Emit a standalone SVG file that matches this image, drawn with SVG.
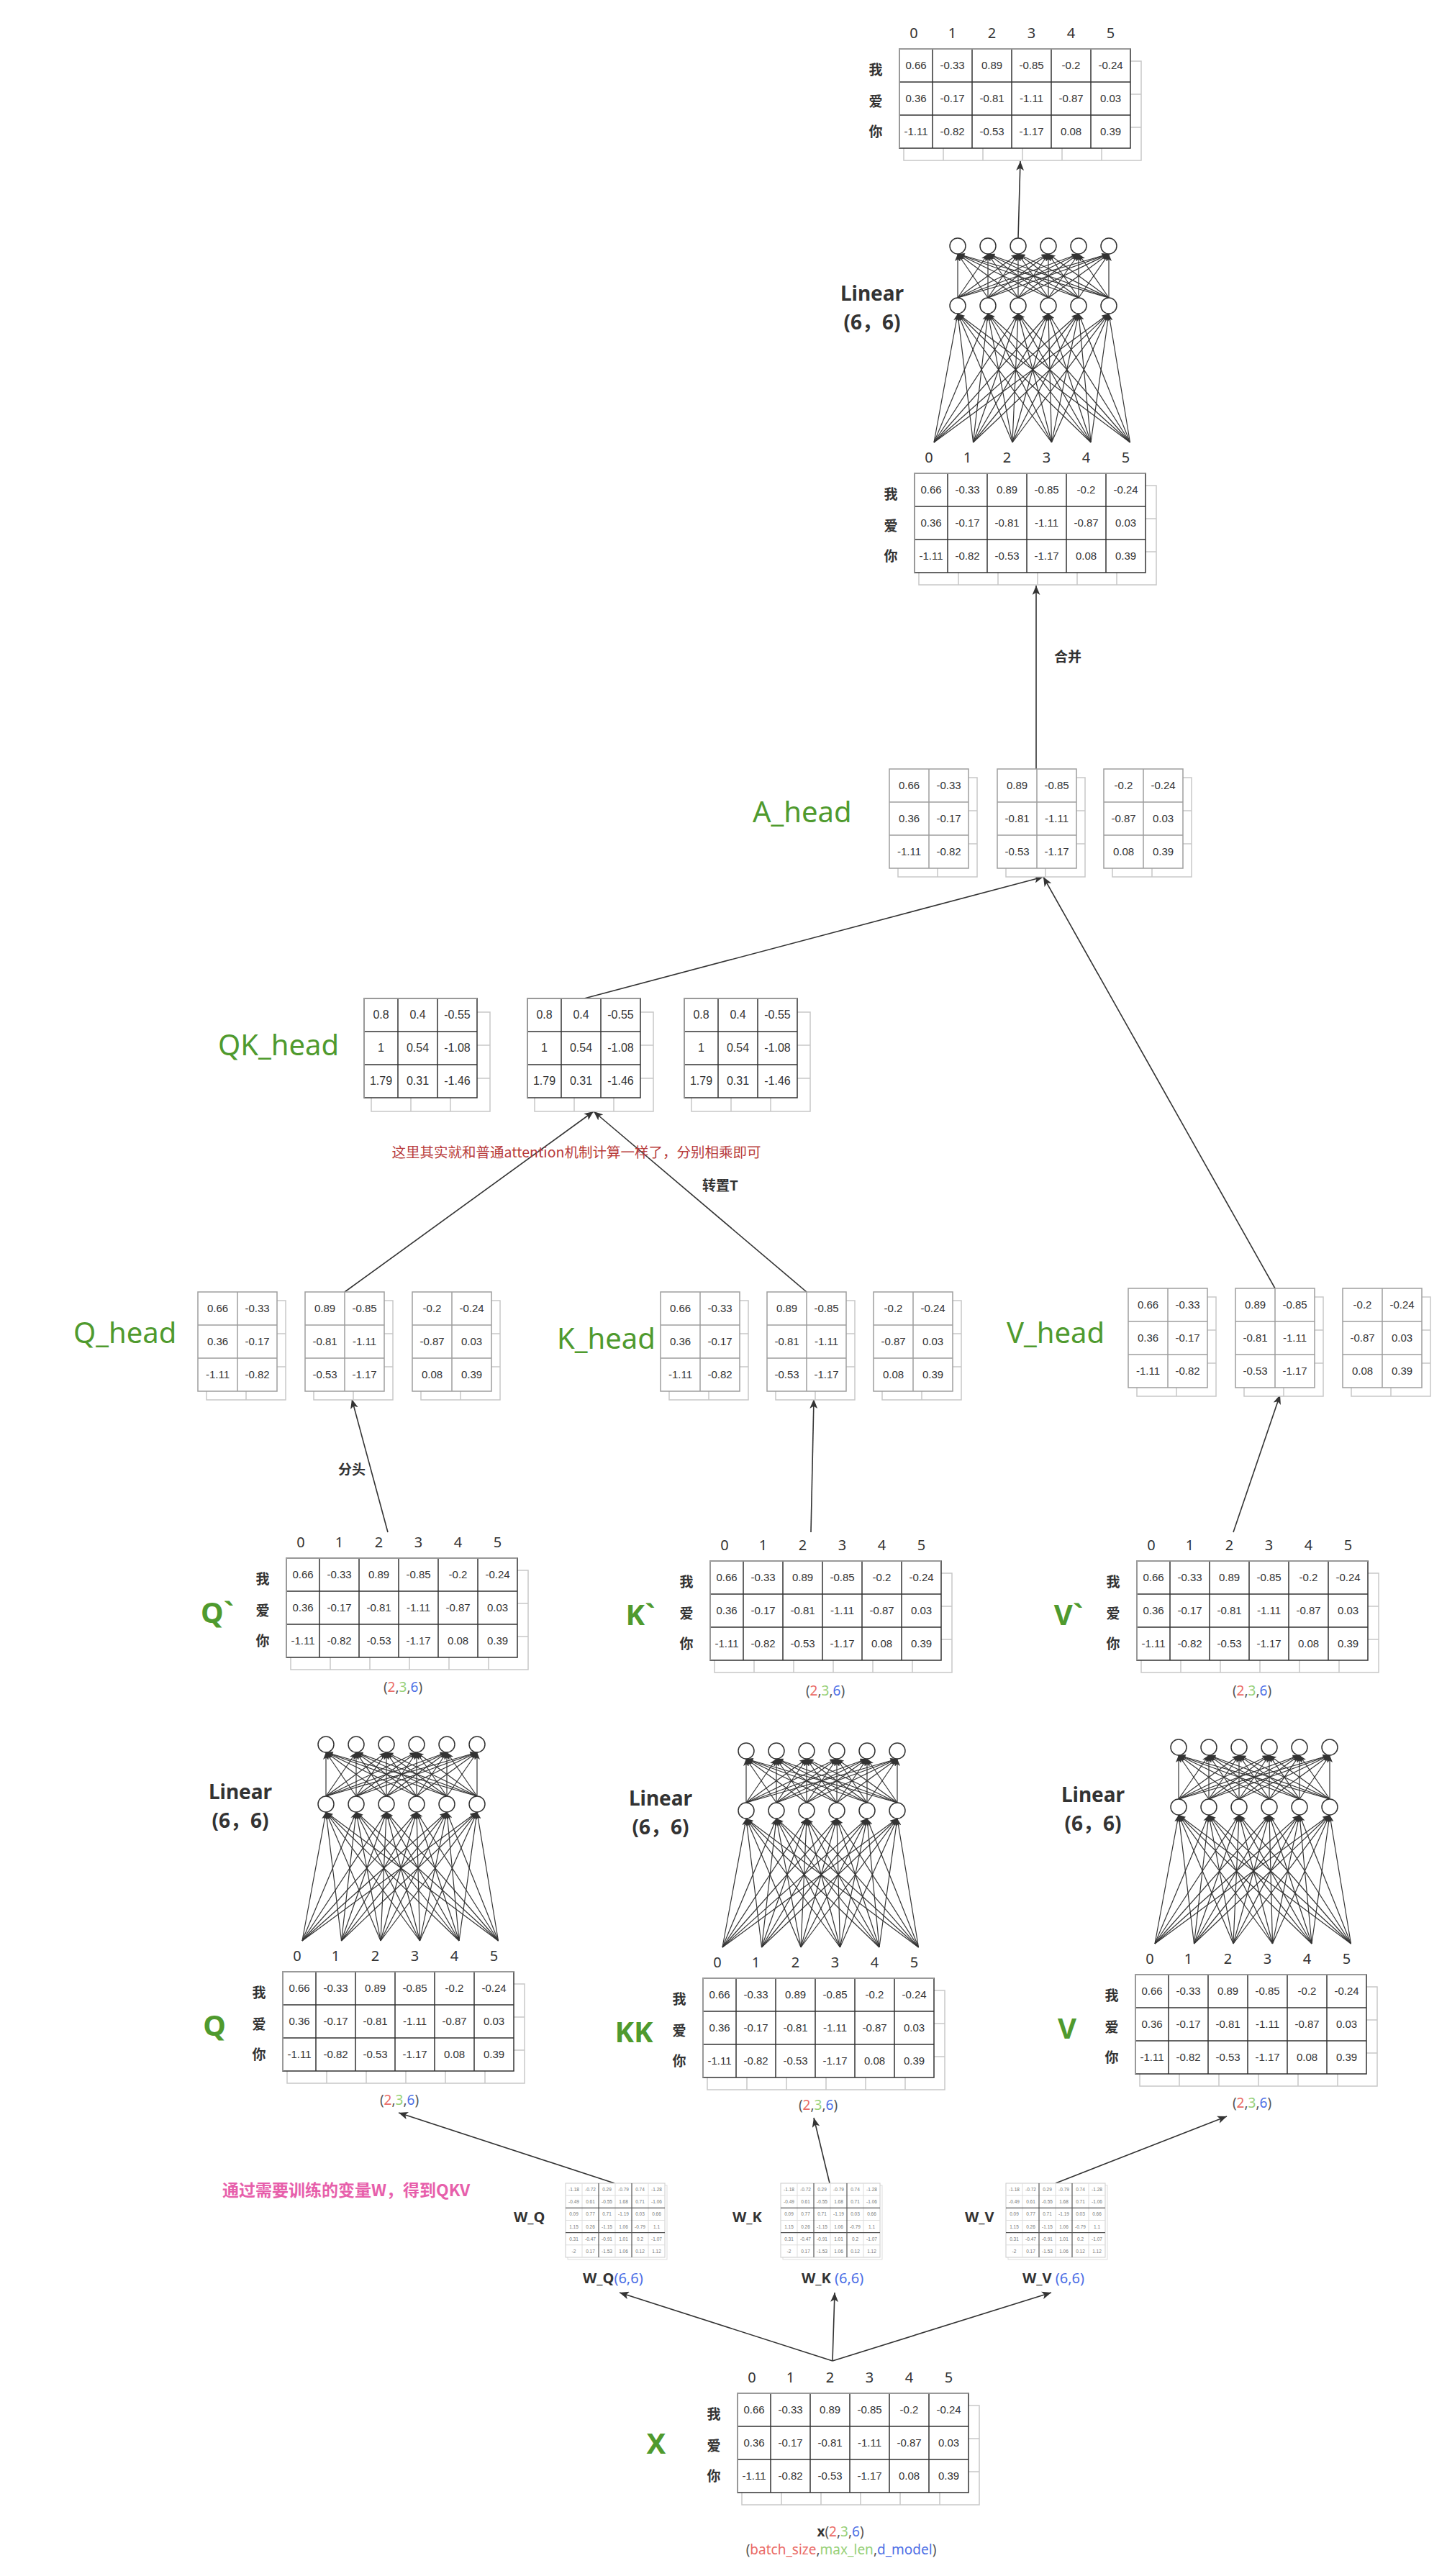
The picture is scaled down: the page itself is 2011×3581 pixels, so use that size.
<svg xmlns="http://www.w3.org/2000/svg" width="2011" height="3581" viewBox="0 0 2011 3581">
<style>
.num{font-family:"Liberation Sans",Arial,sans-serif;font-size:15px;fill:#333;text-anchor:middle}
.numq{font-family:"Liberation Sans",Arial,sans-serif;font-size:16px;fill:#333;text-anchor:middle}
.col{font-family:"Noto Sans","Liberation Sans",sans-serif;font-size:20px;fill:#333;text-anchor:middle}
.row{font-family:"Noto Sans CJK SC",sans-serif;font-size:19px;font-weight:bold;fill:#333;text-anchor:middle}
.lin{font-family:"Noto Sans","Noto Sans CJK SC",sans-serif;font-size:28px;font-weight:bold;fill:#333;text-anchor:middle}
.gt{font-family:"Noto Sans",sans-serif;font-size:40px;fill:#4f9a2e}
.gb{font-family:"Noto Sans",sans-serif;font-size:40px;font-weight:bold;fill:#4f9a2e;text-anchor:middle}
.lab{font-family:"Noto Sans CJK SC",sans-serif;font-size:19px;font-weight:bold;fill:#333;text-anchor:middle}
.dim{font-family:"Noto Sans",sans-serif;font-size:19px;fill:#555;text-anchor:middle}
.wl{font-family:"Noto Sans",sans-serif;font-size:20px;font-weight:bold;fill:#333}
.tiny{font-family:"Liberation Sans",sans-serif;font-size:6.5px;fill:#777;text-anchor:middle}
.sh rect{fill:#fff;stroke:#c8c8c8;stroke-width:1.5}
.sh path{fill:none;stroke:#c8c8c8;stroke-width:1.5}
.grid rect{fill:#fff;stroke:#333;stroke-width:1.5}
.grid path{fill:none;stroke:#333;stroke-width:1.5}
.ggrid rect{fill:#fff;stroke:#9e9e9e;stroke-width:1.5}
.ggrid path{fill:none;stroke:#9e9e9e;stroke-width:1.5}
.edge line{stroke:#333;stroke-width:1.6;marker-end:url(#ahL)}
.nn line{stroke:#333;stroke-width:1.2;marker-end:url(#ah)}
.nn circle{fill:#fff;stroke:#333;stroke-width:1.5}
.r{fill:#ea6b66}.g{fill:#97d077}.b{fill:#4d6fe6}
</style>
<defs>
<marker id="ah" viewBox="0 0 10 8" refX="10" refY="4" markerWidth="10" markerHeight="8" markerUnits="userSpaceOnUse" orient="auto"><path d="M0,0 L10,4 L0,8 L2.5,4 z" fill="#333"/></marker>
<marker id="ahL" viewBox="0 0 12 10" refX="12" refY="5" markerWidth="13" markerHeight="11" markerUnits="userSpaceOnUse" orient="auto"><path d="M0,0 L12,5 L0,10 L3,5 z" fill="#333"/></marker>

<g id="m6">
<g class="sh"><rect x="6" y="17" width="330" height="138"/><path d="M61 17V155M116 17V155M171 17V155M226 17V155M281 17V155M6 63H336M6 109H336"/></g>
<g class="grid"><rect width="321" height="138"/><path d="M46 0V138M101 0V138M156 0V138M211 0V138M266 0V138M0 46H321M0 92H321"/></g>
<path d="M0 138V0H321" fill="none" stroke="#aaa" stroke-width="1.5"/>
<text class="col" x="20" y="-15">0</text><text class="col" x="73.5" y="-15">1</text><text class="col" x="128.5" y="-15">2</text><text class="col" x="183.5" y="-15">3</text><text class="col" x="238.5" y="-15">4</text><text class="col" x="293.5" y="-15">5</text>
<text class="row" x="-33" y="36">我</text><text class="row" x="-33" y="80">爱</text><text class="row" x="-33" y="122">你</text>
<text class="num" x="23" y="28">0.66</text><text class="num" x="73.5" y="28">-0.33</text><text class="num" x="128.5" y="28">0.89</text><text class="num" x="183.5" y="28">-0.85</text><text class="num" x="238.5" y="28">-0.2</text><text class="num" x="293.5" y="28">-0.24</text>
<text class="num" x="23" y="74">0.36</text><text class="num" x="73.5" y="74">-0.17</text><text class="num" x="128.5" y="74">-0.81</text><text class="num" x="183.5" y="74">-1.11</text><text class="num" x="238.5" y="74">-0.87</text><text class="num" x="293.5" y="74">0.03</text>
<text class="num" x="23" y="120">-1.11</text><text class="num" x="73.5" y="120">-0.82</text><text class="num" x="128.5" y="120">-0.53</text><text class="num" x="183.5" y="120">-1.17</text><text class="num" x="238.5" y="120">0.08</text><text class="num" x="293.5" y="120">0.39</text>
</g>

<g id="lin" class="nn">
<line x1="27" y1="-43" x2="60" y2="-222"/><line x1="27" y1="-43" x2="102" y2="-222"/><line x1="27" y1="-43" x2="144" y2="-222"/><line x1="27" y1="-43" x2="186" y2="-222"/><line x1="27" y1="-43" x2="228" y2="-222"/><line x1="27" y1="-43" x2="270" y2="-222"/>
<line x1="81.5" y1="-43" x2="60" y2="-222"/><line x1="81.5" y1="-43" x2="102" y2="-222"/><line x1="81.5" y1="-43" x2="144" y2="-222"/><line x1="81.5" y1="-43" x2="186" y2="-222"/><line x1="81.5" y1="-43" x2="228" y2="-222"/><line x1="81.5" y1="-43" x2="270" y2="-222"/>
<line x1="136" y1="-43" x2="60" y2="-222"/><line x1="136" y1="-43" x2="102" y2="-222"/><line x1="136" y1="-43" x2="144" y2="-222"/><line x1="136" y1="-43" x2="186" y2="-222"/><line x1="136" y1="-43" x2="228" y2="-222"/><line x1="136" y1="-43" x2="270" y2="-222"/>
<line x1="190.5" y1="-43" x2="60" y2="-222"/><line x1="190.5" y1="-43" x2="102" y2="-222"/><line x1="190.5" y1="-43" x2="144" y2="-222"/><line x1="190.5" y1="-43" x2="186" y2="-222"/><line x1="190.5" y1="-43" x2="228" y2="-222"/><line x1="190.5" y1="-43" x2="270" y2="-222"/>
<line x1="245" y1="-43" x2="60" y2="-222"/><line x1="245" y1="-43" x2="102" y2="-222"/><line x1="245" y1="-43" x2="144" y2="-222"/><line x1="245" y1="-43" x2="186" y2="-222"/><line x1="245" y1="-43" x2="228" y2="-222"/><line x1="245" y1="-43" x2="270" y2="-222"/>
<line x1="299.5" y1="-43" x2="60" y2="-222"/><line x1="299.5" y1="-43" x2="102" y2="-222"/><line x1="299.5" y1="-43" x2="144" y2="-222"/><line x1="299.5" y1="-43" x2="186" y2="-222"/><line x1="299.5" y1="-43" x2="228" y2="-222"/><line x1="299.5" y1="-43" x2="270" y2="-222"/>
<line x1="60" y1="-244" x2="60" y2="-305"/><line x1="60" y1="-244" x2="102" y2="-305"/><line x1="60" y1="-244" x2="144" y2="-305"/><line x1="60" y1="-244" x2="186" y2="-305"/><line x1="60" y1="-244" x2="228" y2="-305"/><line x1="60" y1="-244" x2="270" y2="-305"/>
<line x1="102" y1="-244" x2="60" y2="-305"/><line x1="102" y1="-244" x2="102" y2="-305"/><line x1="102" y1="-244" x2="144" y2="-305"/><line x1="102" y1="-244" x2="186" y2="-305"/><line x1="102" y1="-244" x2="228" y2="-305"/><line x1="102" y1="-244" x2="270" y2="-305"/>
<line x1="144" y1="-244" x2="60" y2="-305"/><line x1="144" y1="-244" x2="102" y2="-305"/><line x1="144" y1="-244" x2="144" y2="-305"/><line x1="144" y1="-244" x2="186" y2="-305"/><line x1="144" y1="-244" x2="228" y2="-305"/><line x1="144" y1="-244" x2="270" y2="-305"/>
<line x1="186" y1="-244" x2="60" y2="-305"/><line x1="186" y1="-244" x2="102" y2="-305"/><line x1="186" y1="-244" x2="144" y2="-305"/><line x1="186" y1="-244" x2="186" y2="-305"/><line x1="186" y1="-244" x2="228" y2="-305"/><line x1="186" y1="-244" x2="270" y2="-305"/>
<line x1="228" y1="-244" x2="60" y2="-305"/><line x1="228" y1="-244" x2="102" y2="-305"/><line x1="228" y1="-244" x2="144" y2="-305"/><line x1="228" y1="-244" x2="186" y2="-305"/><line x1="228" y1="-244" x2="228" y2="-305"/><line x1="228" y1="-244" x2="270" y2="-305"/>
<line x1="270" y1="-244" x2="60" y2="-305"/><line x1="270" y1="-244" x2="102" y2="-305"/><line x1="270" y1="-244" x2="144" y2="-305"/><line x1="270" y1="-244" x2="186" y2="-305"/><line x1="270" y1="-244" x2="228" y2="-305"/><line x1="270" y1="-244" x2="270" y2="-305"/>
<circle cx="60" cy="-233" r="11"/><circle cx="102" cy="-233" r="11"/><circle cx="144" cy="-233" r="11"/><circle cx="186" cy="-233" r="11"/><circle cx="228" cy="-233" r="11"/><circle cx="270" cy="-233" r="11"/>
<circle cx="60" cy="-316" r="11"/><circle cx="102" cy="-316" r="11"/><circle cx="144" cy="-316" r="11"/><circle cx="186" cy="-316" r="11"/><circle cx="228" cy="-316" r="11"/><circle cx="270" cy="-316" r="11"/>
<text class="lin" x="-59" y="-240">Linear</text><text class="lin" x="-59" y="-200">(6，6)</text>
</g>

<g id="h1">
<g class="sh"><rect x="12" y="12" width="110" height="138"/><path d="M67 12V150M12 58H122M12 104H122"/></g>
<g class="ggrid"><rect width="110" height="138"/><path d="M55 0V138M0 46H110M0 92H110"/></g>
<text class="num" x="27.5" y="28">0.66</text><text class="num" x="82.5" y="28">-0.33</text>
<text class="num" x="27.5" y="74">0.36</text><text class="num" x="82.5" y="74">-0.17</text>
<text class="num" x="27.5" y="120">-1.11</text><text class="num" x="82.5" y="120">-0.82</text>
</g>
<g id="h2">
<g class="sh"><rect x="12" y="12" width="110" height="138"/><path d="M67 12V150M12 58H122M12 104H122"/></g>
<g class="ggrid"><rect width="110" height="138"/><path d="M55 0V138M0 46H110M0 92H110"/></g>
<text class="num" x="27.5" y="28">0.89</text><text class="num" x="82.5" y="28">-0.85</text>
<text class="num" x="27.5" y="74">-0.81</text><text class="num" x="82.5" y="74">-1.11</text>
<text class="num" x="27.5" y="120">-0.53</text><text class="num" x="82.5" y="120">-1.17</text>
</g>
<g id="h3">
<g class="sh"><rect x="12" y="12" width="110" height="138"/><path d="M67 12V150M12 58H122M12 104H122"/></g>
<g class="ggrid"><rect width="110" height="138"/><path d="M55 0V138M0 46H110M0 92H110"/></g>
<text class="num" x="27.5" y="28">-0.2</text><text class="num" x="82.5" y="28">-0.24</text>
<text class="num" x="27.5" y="74">-0.87</text><text class="num" x="82.5" y="74">0.03</text>
<text class="num" x="27.5" y="120">0.08</text><text class="num" x="82.5" y="120">0.39</text>
</g>

<g id="mqk">
<g class="sh"><rect x="10" y="19" width="165" height="138"/><path d="M65 19V157M120 19V157M10 65H175M10 111H175"/></g>
<g class="grid"><rect width="157" height="138"/><path d="M47 0V138M102 0V138M0 46H157M0 92H157"/></g>
<path d="M0 138V0H157" fill="none" stroke="#aaa" stroke-width="1.5"/>
<text class="numq" x="23.5" y="28">0.8</text><text class="numq" x="74.5" y="28">0.4</text><text class="numq" x="129.5" y="28">-0.55</text>
<text class="numq" x="23.5" y="74">1</text><text class="numq" x="74.5" y="74">0.54</text><text class="numq" x="129.5" y="74">-1.08</text>
<text class="numq" x="23.5" y="120">1.79</text><text class="numq" x="74.5" y="120">0.31</text><text class="numq" x="129.5" y="120">-1.46</text>
</g>

<g id="wm">
<rect x="3" y="3" width="138" height="103" fill="#fff" stroke="#ddd"/>
<rect width="138" height="103" fill="#fff" stroke="#ccc"/>
<path d="M23 0V103M69 0V103M115 0V103M0 17.2H138M0 51.5H138M0 85.8H138" stroke="#ddd" fill="none"/>
<path d="M46 0V103M92 0V103M0 34.3H138M0 68.7H138" stroke="#555" stroke-width="1.2" fill="none"/>
<text class="tiny" x="11.5" y="11">-1.18</text><text class="tiny" x="34.5" y="11">-0.72</text><text class="tiny" x="57.5" y="11">0.29</text><text class="tiny" x="80.5" y="11">-0.79</text><text class="tiny" x="103.5" y="11">0.74</text><text class="tiny" x="126.5" y="11">-1.28</text>
<text class="tiny" x="11.5" y="28">-0.49</text><text class="tiny" x="34.5" y="28">0.61</text><text class="tiny" x="57.5" y="28">-0.55</text><text class="tiny" x="80.5" y="28">1.68</text><text class="tiny" x="103.5" y="28">0.71</text><text class="tiny" x="126.5" y="28">-1.06</text>
<text class="tiny" x="11.5" y="45">0.09</text><text class="tiny" x="34.5" y="45">0.77</text><text class="tiny" x="57.5" y="45">0.71</text><text class="tiny" x="80.5" y="45">-1.19</text><text class="tiny" x="103.5" y="45">0.03</text><text class="tiny" x="126.5" y="45">0.66</text>
<text class="tiny" x="11.5" y="62.5">1.15</text><text class="tiny" x="34.5" y="62.5">0.26</text><text class="tiny" x="57.5" y="62.5">-1.15</text><text class="tiny" x="80.5" y="62.5">1.06</text><text class="tiny" x="103.5" y="62.5">-0.79</text><text class="tiny" x="126.5" y="62.5">1.1</text>
<text class="tiny" x="11.5" y="80">0.31</text><text class="tiny" x="34.5" y="80">-0.47</text><text class="tiny" x="57.5" y="80">-0.91</text><text class="tiny" x="80.5" y="80">1.01</text><text class="tiny" x="103.5" y="80">0.2</text><text class="tiny" x="126.5" y="80">-1.07</text>
<text class="tiny" x="11.5" y="97">-2</text><text class="tiny" x="34.5" y="97">0.17</text><text class="tiny" x="57.5" y="97">-1.53</text><text class="tiny" x="80.5" y="97">1.06</text><text class="tiny" x="103.5" y="97">0.12</text><text class="tiny" x="126.5" y="97">1.12</text>
</g>
</defs>

<rect width="2011" height="3581" fill="#fff"/>

<g id="connectors" class="edge">
<line x1="1157" y1="3282" x2="861" y2="3187"/>
<line x1="1157" y1="3282" x2="1160" y2="3187"/>
<line x1="1157" y1="3282" x2="1461" y2="3187"/>
<line x1="854" y1="3035" x2="554" y2="2937"/>
<line x1="1153" y1="3035" x2="1131" y2="2944"/>
<line x1="1467" y1="3035" x2="1705" y2="2942"/>
<line x1="539" y1="2130" x2="489" y2="1945"/>
<line x1="1127" y1="2130" x2="1131" y2="1945"/>
<line x1="1714" y1="2130" x2="1779" y2="1939"/>
<line x1="479" y1="1796" x2="825" y2="1545"/>
<line x1="1121" y1="1796" x2="825" y2="1545"/>
<line x1="812" y1="1388" x2="1450" y2="1219"/>
<line x1="1772" y1="1791" x2="1450" y2="1219"/>
<line x1="1440" y1="1069" x2="1440" y2="814"/>
<line x1="1415" y1="331" x2="1418" y2="224"/>
</g>

<g id="edge-labels">
<text class="lab" x="1484" y="920">合并</text>
<text class="lab" x="489" y="2050">分头</text>
<text class="lab" x="1001" y="1655">转置T</text>
<text x="801" y="1609" text-anchor="middle" font-family="Noto Sans CJK SC, sans-serif" font-size="19.5" fill="#b83b3b">这里其实就和普通attention机制计算一样了，分别相乘即可</text>
<text x="309" y="3053" font-family="Noto Sans CJK SC, sans-serif" font-size="23" font-weight="bold" fill="#e75fab">通过需要训练的变量W，得到QKV</text>
</g>

<g id="node-output"><use href="#m6" x="1250" y="68"/></g>
<g id="node-linear-out"><use href="#lin" x="1271" y="658"/></g>
<g id="node-concat"><use href="#m6" x="1271" y="658"/></g>

<g id="node-A-head">
<text class="gt" x="1046" y="1143">A_head</text>
<use href="#h1" x="1236" y="1069"/><use href="#h2" x="1386" y="1069"/><use href="#h3" x="1534" y="1069"/>
</g>
<g id="node-QK-head">
<text class="gt" x="303" y="1467">QK_head</text>
<use href="#mqk" x="506" y="1388"/><use href="#mqk" x="733" y="1388"/><use href="#mqk" x="951" y="1388"/>
</g>
<g id="node-Q-head">
<text class="gt" x="102" y="1867">Q_head</text>
<use href="#h1" x="275" y="1796"/><use href="#h2" x="424" y="1796"/><use href="#h3" x="573" y="1796"/>
</g>
<g id="node-K-head">
<text class="gt" x="774" y="1875">K_head</text>
<use href="#h1" x="918" y="1796"/><use href="#h2" x="1066" y="1796"/><use href="#h3" x="1214" y="1796"/>
</g>
<g id="node-V-head">
<text class="gt" x="1399" y="1867">V_head</text>
<use href="#h1" x="1568" y="1791"/><use href="#h2" x="1717" y="1791"/><use href="#h3" x="1866" y="1791"/>
</g>

<g id="node-Qp">
<use href="#m6" x="398" y="2166"/>
<text class="gb" x="302" y="2256">Q`</text>
<text class="dim" x="560" y="2352">(<tspan class="r">2</tspan>,<tspan class="g">3</tspan>,<tspan class="b">6</tspan>)</text>
</g>
<g id="node-Kp">
<use href="#m6" x="987" y="2170"/>
<text class="gb" x="890" y="2259">K`</text>
<text class="dim" x="1147" y="2357">(<tspan class="r">2</tspan>,<tspan class="g">3</tspan>,<tspan class="b">6</tspan>)</text>
</g>
<g id="node-Vp">
<use href="#m6" x="1580" y="2170"/>
<text class="gb" x="1485" y="2259">V`</text>
<text class="dim" x="1740" y="2357">(<tspan class="r">2</tspan>,<tspan class="g">3</tspan>,<tspan class="b">6</tspan>)</text>
</g>

<g id="node-linear-Q"><use href="#lin" x="393" y="2741"/></g>
<g id="node-linear-K"><use href="#lin" x="977" y="2750"/></g>
<g id="node-linear-V"><use href="#lin" x="1578" y="2745"/></g>

<g id="node-Q">
<use href="#m6" x="393" y="2741"/>
<text class="gb" x="298" y="2830">Q</text>
<text class="dim" x="555" y="2926">(<tspan class="r">2</tspan>,<tspan class="g">3</tspan>,<tspan class="b">6</tspan>)</text>
</g>
<g id="node-KK">
<use href="#m6" x="977" y="2750"/>
<text class="gb" x="881" y="2839">KK</text>
<text class="dim" x="1137" y="2933">(<tspan class="r">2</tspan>,<tspan class="g">3</tspan>,<tspan class="b">6</tspan>)</text>
</g>
<g id="node-V">
<use href="#m6" x="1578" y="2745"/>
<text class="gb" x="1483" y="2834">V</text>
<text class="dim" x="1740" y="2930">(<tspan class="r">2</tspan>,<tspan class="g">3</tspan>,<tspan class="b">6</tspan>)</text>
</g>

<g id="node-WQ">
<text class="wl" x="714" y="3089">W_Q</text>
<use href="#wm" x="786" y="3035"/>
<text class="wl" x="810" y="3174">W_Q<tspan class="b" font-weight="normal">(6,6)</tspan></text>
</g>
<g id="node-WK">
<text class="wl" x="1018" y="3089">W_K</text>
<use href="#wm" x="1085" y="3035"/>
<text class="wl" x="1114" y="3174">W_K <tspan class="b" font-weight="normal">(6,6)</tspan></text>
</g>
<g id="node-WV">
<text class="wl" x="1341" y="3089">W_V</text>
<use href="#wm" x="1398" y="3035"/>
<text class="wl" x="1421" y="3174">W_V <tspan class="b" font-weight="normal">(6,6)</tspan></text>
</g>

<g id="node-X">
<use href="#m6" x="1025" y="3327"/>
<text class="gb" x="912" y="3411">X</text>
<text class="dim" x="1168" y="3526" font-size="21"><tspan font-weight="bold" fill="#333">x</tspan>(<tspan class="r">2</tspan>,<tspan class="g">3</tspan>,<tspan class="b">6</tspan>)</text>
<text class="dim" x="1169" y="3551" font-size="21">(<tspan class="r">batch_size</tspan>,<tspan class="g">max_len</tspan>,<tspan class="b">d_model</tspan>)</text>
</g>
</svg>
